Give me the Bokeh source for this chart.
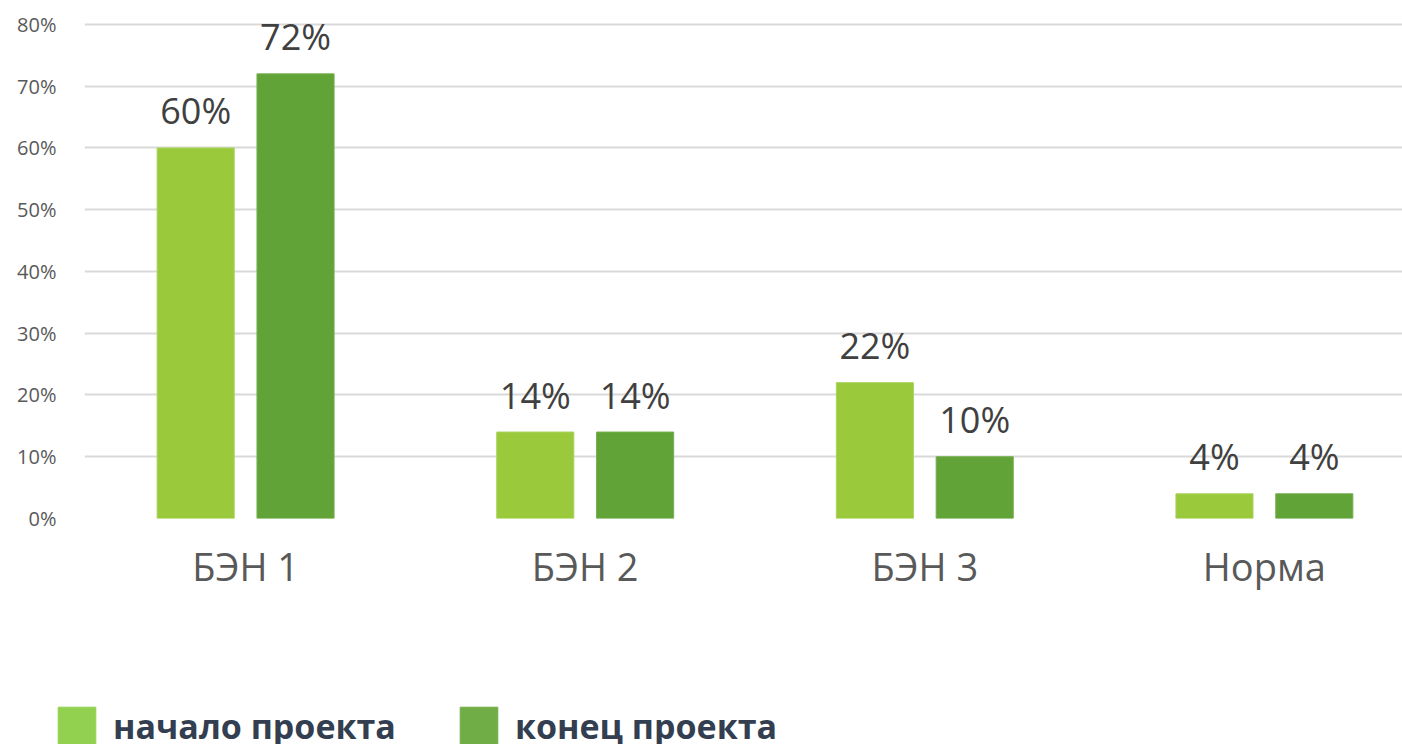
from bokeh.plotting import figure
from bokeh.layouts import column
from bokeh.models import (ColumnDataSource, Range1d, FixedTicker, NumeralTickFormatter,
                          Legend, LegendItem)
from bokeh.core.properties import value
from bokeh.transform import dodge
from bokeh.embed import file_html
from bokeh.resources import INLINE

categories = ["БЭН 1", "БЭН 2", "БЭН 3", "Норма"]
start_vals = [0.60, 0.14, 0.22, 0.04]   # начало проекта
end_vals = [0.72, 0.14, 0.10, 0.04]     # конец проекта
y_ticks = [0.0, 0.1, 0.2, 0.3, 0.4, 0.5, 0.6, 0.7, 0.8]
series_names = ["начало проекта", "конец проекта"]

xpos = list(range(1, len(categories) + 1))
src = ColumnDataSource(dict(
    x=xpos,
    start=start_vals,
    end=end_vals,
    start_lbl=[f"{round(v*100)}%" for v in start_vals],
    end_lbl=[f"{round(v*100)}%" for v in end_vals],
))

LIGHT_BAR = "#9ACA3C"
DARK_BAR = "#62A337"
LIGHT_LEG = "#92D050"
DARK_LEG = "#70AD47"
FONT = "Open Sans"

p = figure(width=1402, height=690, output_backend="svg", toolbar_location=None,
           x_range=Range1d(0.5256, 4.4067), y_range=Range1d(0, 0.8291),
           min_border_left=84, min_border_right=0, min_border_top=6,
           min_border_bottom=172)
p.frame_align = False
p.outline_line_color = None
p.background_fill_color = "white"
p.border_fill_color = "white"

bw = 0.227
off = 0.147
p.vbar(x=dodge("x", -off, range=p.x_range), top="start", width=bw, source=src,
       fill_color=LIGHT_BAR, line_color="#A9D35A", line_width=1)
p.vbar(x=dodge("x", off, range=p.x_range), top="end", width=bw, source=src,
       fill_color=DARK_BAR, line_color="#74AE4E", line_width=1)

p.text(x=dodge("x", -off, range=p.x_range), y="start", text="start_lbl", source=src,
       text_align="center", text_baseline="alphabetic", y_offset=-37,
       text_font_size="36px", text_color="#404040", text_font=value(FONT))
p.text(x=dodge("x", off, range=p.x_range), y="end", text="end_lbl", source=src,
       text_align="center", text_baseline="alphabetic", y_offset=-37,
       text_font_size="36px", text_color="#404040", text_font=value(FONT))

# axes
p.xaxis.ticker = FixedTicker(ticks=xpos)
p.xaxis.major_label_overrides = {i: c for i, c in zip(xpos, categories)}
p.xaxis.major_label_text_font = FONT
p.xaxis.major_label_text_font_size = "38px"
p.xaxis.major_label_text_color = "#595959"
p.xaxis.major_label_standoff = 15
p.xaxis.axis_line_color = None
p.xaxis.major_tick_line_color = None
p.xaxis.minor_tick_line_color = None

p.yaxis.ticker = FixedTicker(ticks=y_ticks)
p.yaxis.formatter = NumeralTickFormatter(format="0%")
p.yaxis.major_label_text_font = FONT
p.yaxis.major_label_text_font_size = "20px"
p.yaxis.major_label_text_color = "#595959"
p.yaxis.major_label_standoff = 22
p.yaxis.axis_line_color = None
p.yaxis.major_tick_line_color = None
p.yaxis.minor_tick_line_color = None

p.xgrid.grid_line_color = None
p.ygrid.grid_line_color = "#D9D9D9"
p.ygrid.grid_line_width = 2
p.ygrid.ticker = FixedTicker(ticks=y_ticks)

# legend strip (its own small figure below the chart)
q = figure(width=1402, height=54, output_backend="svg", toolbar_location=None,
           x_axis_type=None, y_axis_type=None,
           x_range=Range1d(0, 1), y_range=Range1d(0, 1),
           min_border=0, min_border_left=0, min_border_right=0,
           min_border_top=0, min_border_bottom=0)
q.frame_align = False
q.outline_line_color = None
q.xgrid.grid_line_color = None
q.ygrid.grid_line_color = None
r1 = q.vbar(x="x", top="start", width=0.1, source=src,
            fill_color=LIGHT_LEG, line_color=LIGHT_LEG, visible=False)
r2 = q.vbar(x="x", top="end", width=0.1, source=src,
            fill_color=DARK_LEG, line_color=DARK_LEG, visible=False)
legend = Legend(items=[LegendItem(label=series_names[0], renderers=[r1], index=0),
                       LegendItem(label=series_names[1], renderers=[r2], index=0)],
                orientation="horizontal", location=(53, -5),
                glyph_width=47, glyph_height=47, label_standoff=13, spacing=59,
                padding=0, margin=0, inactive_fill_alpha=0,
                label_text_font=FONT, label_text_font_size="34px",
                label_text_font_style="bold", label_text_color="#333F50",
                border_line_color=None, background_fill_alpha=0)
q.add_layout(legend, "center")

layout = column(p, q, spacing=0)
open("out.html", "w").write(file_html(layout, INLINE))
